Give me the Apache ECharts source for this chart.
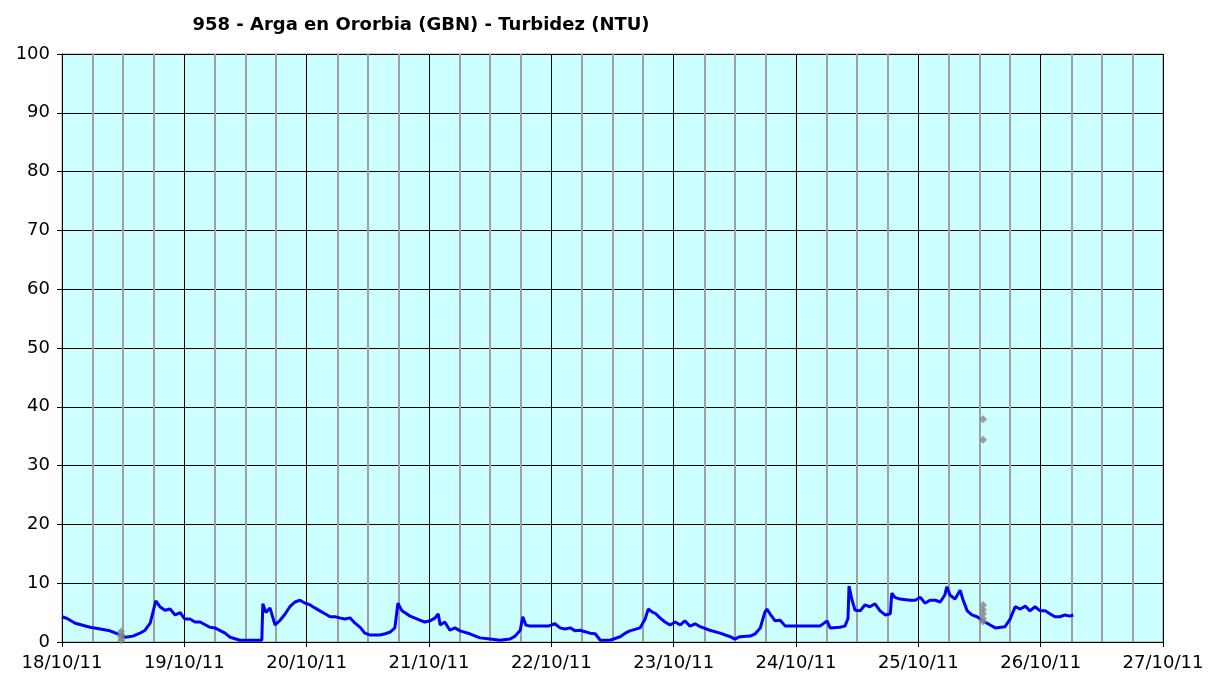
<!DOCTYPE html>
<html>
<head>
<meta charset="utf-8">
<script src="https://cdn.jsdelivr.net/npm/echarts@6/dist/echarts.min.js"></script>
<style>
  html, body { margin: 0; padding: 0; background: #fff; }
  #chart { width: 1221px; height: 680px; }
</style>
</head>
<body>
<div id="chart"></div>
<script>
// etiquetas de los días (eje x en horas desde 18/10/11 00:00)
var dayLabels = ['18/10/11', '19/10/11', '20/10/11', '21/10/11', '22/10/11', '23/10/11', '24/10/11', '25/10/11', '26/10/11', '27/10/11'];

// turbidez: horas y valores
var hours = [0, 1.0, 2.6, 5.5, 7.5, 9.4, 11.4, 12.4, 13.9, 15.3, 16.3, 17.3, 18.2, 18.4, 19.2, 20.2, 21.2, 22.2, 23.2, 24.1,
  25.1, 26.1, 27.1, 29.0, 30.0, 32.0, 33.0, 34.9, 36.9, 38.8, 39.2, 39.4, 40.0, 40.8, 41.8, 42.8, 43.8, 44.7, 45.7, 46.7,
  47.7, 48.7, 49.6, 50.6, 51.6, 52.6, 53.6, 54.5, 55.5, 56.5, 57.5, 58.5, 59.4, 60.4, 62.4, 63.4, 64.4, 65.3, 65.9, 66.7,
  68.3, 70.2, 71.2, 72.2, 73.2, 73.8, 74.2, 75.1, 76.1, 77.1, 78.1, 80.0, 82.0, 84.0, 85.9, 87.9, 88.9, 89.9, 90.4, 91.0,
  91.8, 93.8, 95.4, 95.7, 96.7, 97.7, 98.7, 99.7, 100.7, 101.6, 103.6, 104.6, 105.6, 107.5, 109.5, 110.5, 111.4, 113.4, 114.4, 115.0,
  115.8, 116.5, 117.3, 118.3, 119.3, 120.3, 121.3, 122.2, 123.2, 124.2, 125.2, 127.1, 129.1, 131.1, 132.0, 133.0, 135.0, 136.0, 137.0, 137.9,
  138.3, 138.9, 139.9, 140.9, 141.9, 144.8, 146.8, 148.7, 150.1, 150.7, 152.6, 153.6, 154.2, 154.4, 155.0, 155.6, 156.6, 157.5, 158.5, 159.5,
  160.5, 161.5, 162.5, 162.8, 163.4, 164.4, 166.4, 167.4, 168.4, 169.3, 170.3, 171.3, 172.3, 173.2, 173.6, 174.2, 175.2, 176.2, 176.8, 177.6,
  178.5, 179.5, 180.7, 182.1, 183.1, 185.0, 186.0, 187.0, 188.0, 189.0, 189.9, 190.9, 191.9, 192.9, 193.8, 194.8, 195.8, 196.8, 197.7, 198.4];
var turbidez = [4.3, 4.0, 3.2, 2.5, 2.2, 1.9, 1.2, 0.8, 1.0, 1.5, 2.0, 3.2, 6.3, 7.0, 6.0, 5.4, 5.6, 4.6, 5.0, 3.9,
  3.9, 3.4, 3.4, 2.5, 2.4, 1.5, 0.8, 0.3, 0.3, 0.3, 0.3, 6.5, 5.0, 5.8, 2.9, 3.7, 4.8, 6.0, 6.8, 7.1,
  6.6, 6.3, 5.8, 5.3, 4.8, 4.3, 4.3, 4.1, 3.9, 4.1, 3.2, 2.5, 1.5, 1.2, 1.2, 1.4, 1.7, 2.4, 6.6, 5.3,
  4.4, 3.7, 3.4, 3.6, 4.1, 4.8, 2.9, 3.4, 2.0, 2.4, 1.9, 1.4, 0.7, 0.5, 0.3, 0.5, 1.0, 2.0, 4.3, 2.9,
  2.7, 2.7, 2.7, 2.4, 3.1, 2.4, 2.2, 2.4, 1.9, 2.0, 1.5, 1.4, 0.3, 0.3, 0.9, 1.5, 1.9, 2.4, 3.9, 5.6,
  5.1, 4.8, 4.1, 3.4, 2.9, 3.4, 2.9, 3.6, 2.7, 3.1, 2.6, 2.0, 1.5, 0.9, 0.5, 0.9, 1.0, 1.4, 2.4, 5.1,
  5.6, 4.8, 3.6, 3.7, 2.7, 2.7, 2.7, 2.7, 3.6, 2.4, 2.5, 2.7, 4.0, 9.5, 7.1, 5.4, 5.3, 6.3, 6.0, 6.5,
  5.3, 4.6, 4.8, 8.3, 7.6, 7.3, 7.1, 7.1, 7.6, 6.6, 7.1, 7.1, 6.8, 8.0, 9.4, 8.0, 7.3, 8.8, 7.1, 5.3,
  4.6, 4.3, 3.6, 2.9, 2.4, 2.6, 3.9, 6.0, 5.6, 6.1, 5.3, 6.0, 5.3, 5.3, 4.8, 4.3, 4.3, 4.6, 4.4, 4.6];

// valores sueltos (gris)
var otrosHoras = [11.6, 11.6, 11.6, 11.6, 180.7, 180.7, 180.7, 180.7, 180.7, 180.7, 180.7];
var otrosValores = [0.3, 0.8, 1.3, 1.8, 37.9, 34.4, 6.3, 5.5, 4.8, 4.0, 3.5];

var lineData = hours.map(function (h, i) { return [h, turbidez[i]]; });
var dotData = otrosHoras.map(function (h, i) { return [h, otrosValores[i]]; });

var myChart = echarts.init(document.getElementById('chart'));
var option = {
  backgroundColor: '#fff',
  animation: false,
  title: {
    text: '958 - Arga en Ororbia (GBN) - Turbidez (NTU)',
    left: 416,
    textAlign: 'center',
    top: 11,
    textStyle: { fontFamily: 'DejaVu Sans', fontSize: 18, fontWeight: 'bold', color: '#000' }
  },
  grid: {
    left: 62, top: 54, right: 58, bottom: 38,
    show: true, backgroundColor: '#CCFFFF', borderColor: '#999', borderWidth: 1
  },
  xAxis: {
    type: 'value',
    min: 0, max: 216, interval: 24,
    axisLine: { show: true, lineStyle: { color: '#000', width: 1 } },
    axisTick: { show: true, length: 5, lineStyle: { color: '#000' } },
    axisLabel: {
      color: '#000', fontFamily: 'DejaVu Sans', fontSize: 18, margin: 12,
      formatter: function (v) { return dayLabels[Math.round(v / 24)]; }
    },
    splitLine: { show: true, lineStyle: { color: '#000', width: 1 } },
    minorTick: { show: false, splitNumber: 4 },
    minorSplitLine: { show: true, lineStyle: { color: '#a0a0a0', width: 2 } }
  },
  yAxis: {
    type: 'value',
    min: 0, max: 100, interval: 10,
    axisLine: { show: true, lineStyle: { color: '#000', width: 1 } },
    axisTick: { show: true, length: 5, lineStyle: { color: '#000' } },
    axisLabel: { color: '#000', fontFamily: 'DejaVu Sans', fontSize: 18, margin: 12 },
    splitLine: { show: true, lineStyle: { color: '#000', width: 1 } }
  },
  series: [
    {
      type: 'line',
      data: lineData,
      showSymbol: false,
      lineStyle: { color: '#0000FF', width: 3 },
      z: 3
    },
    {
      type: 'scatter',
      data: dotData,
      symbol: 'diamond',
      symbolSize: 8,
      itemStyle: { color: '#888' },
      z: 4
    }
  ]
};
myChart.setOption(option);
</script>
</body>
</html>
